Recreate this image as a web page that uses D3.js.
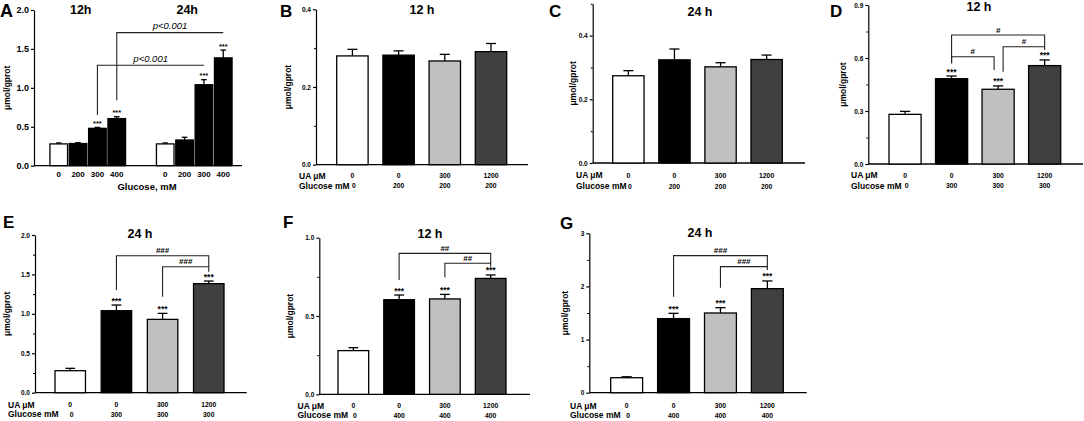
<!DOCTYPE html>
<html>
<head>
<meta charset="utf-8">
<script src="https://cdn.jsdelivr.net/npm/d3@7"></script>
<style>
  body { margin: 0; background: #fff; }
  svg text { font-family: "Liberation Sans", Arial, sans-serif; fill: #000; }
</style>
</head>
<body>
<svg id="fig" width="1084" height="421"></svg>
<script>
// ---- panel A: glucose only, 12h vs 24h
const timesA = ['12h', '24h'];
const glucoseA = ['0', '200', '300', '400'];
const meanA12 = [0.28, 0.285, 0.48, 0.605];
const errA12 = [0.012, 0.01, 0.012, 0.025];
const meanA24 = [0.28, 0.33, 1.04, 1.385];
const errA24 = [0.012, 0.035, 0.065, 0.1];
const starsA = ['', '', '***', '***'];
// [from time, glucose idx, to time, glucose idx, line y, left leg bottom, right leg bottom, text]
const bracketsA = [
  ['12h', 2, '24h', 2, 1.29, 0.65, 1.29, 'p<0.001'],
  ['12h', 3, '24h', 3, 1.71, 0.84, 1.71, 'p<0.001']
];

// ---- panels B-G: uric acid + glucose
const uaLevels = ['0', '0', '300', '1200'];
const starsUA = ['', '***', '***', '***'];

const glucoseB = ['0', '200', '200', '200'];
const meanB = [0.280, 0.282, 0.267, 0.291];
const errB = [0.017, 0.011, 0.017, 0.021];

const glucoseC = ['0', '200', '200', '200'];
const meanC = [0.274, 0.324, 0.302, 0.325];
const errC = [0.016, 0.034, 0.013, 0.014];

const glucoseD = ['0', '300', '300', '300'];
const meanD = [0.281, 0.483, 0.423, 0.557];
const errD = [0.017, 0.015, 0.019, 0.032];
// [from bar, to bar, line y, left leg bottom, right leg bottom, text]
const bracketsD = [
  [1, 3, 0.73, 0.57, 0.664, '#'],
  [1, 2, 0.607, 0.57, 0.532, '#'],
  [2, 3, 0.664, 0.522, 0.645, '#']
];

const glucoseE = ['0', '300', '300', '300'];
const meanE = [0.279, 1.04, 0.93, 1.383];
const errE = [0.03, 0.072, 0.076, 0.033];
const bracketsE = [
  [1, 3, 1.737, 1.302, 1.598, '###'],
  [2, 3, 1.598, 1.218, 1.535, '###']
];

const glucoseF = ['0', '400', '400', '400'];
const meanF = [0.279, 0.604, 0.609, 0.74];
const errF = [0.019, 0.03, 0.029, 0.022];
const bracketsF = [
  [1, 3, 0.9, 0.73, 0.837, '##'],
  [2, 3, 0.837, 0.747, 0.815, '##']
];

const glucoseG = ['0', '400', '400', '400'];
const meanG = [0.282, 1.394, 1.5, 1.958];
const errG = [0.018, 0.1, 0.1, 0.145];
const bracketsG = [
  [1, 3, 2.579, 1.807, 2.372, '###'],
  [2, 3, 2.372, 1.976, 2.31, '###']
];

const fills = ['#ffffff', '#000000', '#c0c0c0', '#404040'];
const svg = d3.select('#fig');

function label(g, x, y, txt, size, anchor) {
  return g.append('text').attr('x', x).attr('y', y)
    .attr('text-anchor', anchor || 'start').attr('font-size', size)
    .style('font-weight', 'bold').text(txt);
}

function yAxis(g, y, cfg) {
  g.append('g')
    .attr('transform', `translate(${cfg.axisX},0)`)
    .call(d3.axisLeft(y).tickValues(cfg.major).tickSize(3).tickSizeOuter(0)
      .tickPadding(2).tickFormat(d3.format(cfg.fmt)))
    .attr('font-size', cfg.tickFont)
    .call(s => s.selectAll('text').style('font-weight', 'bold'))
    .call(s => s.selectAll('path,line').attr('stroke', '#000').attr('stroke-width', 1.2));
  if (cfg.minor.length) {
    g.append('g')
      .attr('transform', `translate(${cfg.axisX},0)`)
      .call(d3.axisLeft(y).tickValues(cfg.minor).tickSize(2).tickFormat(''))
      .call(s => s.select('.domain').remove())
      .call(s => s.selectAll('line').attr('stroke', '#000').attr('stroke-width', 1));
  }
  g.append('line')
    .attr('x1', cfg.axisX).attr('x2', cfg.endX)
    .attr('y1', y(0)).attr('y2', y(0))
    .attr('stroke', '#000').attr('stroke-width', 1.3);
  g.append('text')
    .attr('transform', `translate(${cfg.ylabX},${(y(0) + y(cfg.max)) / 2}) rotate(-90)`)
    .attr('text-anchor', 'middle').attr('dy', '0.35em')
    .attr('font-size', 8.5).style('font-weight', 'bold')
    .text('\u03bcmol/gprot');
}

function bars(g, y, xs, w, means, errs, stars, colors, starSize) {
  const n = means.length;
  d3.range(n).forEach(i => {
    const x = xs[i];
    const top = y(means[i] + errs[i]);
    g.append('line')
      .attr('x1', x + w / 2).attr('x2', x + w / 2)
      .attr('y1', y(means[i])).attr('y2', top)
      .attr('stroke', '#000').attr('stroke-width', 1.3);
    g.append('line')
      .attr('x1', x + w / 2 - w * 0.16).attr('x2', x + w / 2 + w * 0.16)
      .attr('y1', top).attr('y2', top)
      .attr('stroke', '#000').attr('stroke-width', 1.3);
    g.append('rect')
      .attr('x', x).attr('width', w)
      .attr('y', y(means[i])).attr('height', y(0) - y(means[i]))
      .attr('fill', colors[i]).attr('stroke', '#000').attr('stroke-width', 1.3);
    if (stars[i]) label(g, x + w / 2, top - 1.5, stars[i], starSize, 'middle');
  });
}

function bracket(g, y, xl, xr, b, opts) {
  const path = d3.path();
  path.moveTo(xl, y(b[0]));
  path.lineTo(xl, y(b[1]));
  path.lineTo(xr, y(b[1]));
  path.lineTo(xr, y(b[2]));
  g.append('path').attr('d', path.toString())
    .attr('fill', 'none').attr('stroke', '#222').attr('stroke-width', 1.1);
  const t = label(g, (xl + xr) / 2, y(b[1]) - opts.gap, b[3], opts.size, 'middle');
  if (opts.italic) t.attr('font-style', 'italic').style('font-weight', 'normal');
}

// ---------- panel A
(function () {
  const cfg = {
    axisX: 34, endX: 242, y0: 165.7, yTop: 10, max: 2,
    major: [0, 0.5, 1, 1.5, 2], minor: [], fmt: '.1f', tickFont: 9, ylabX: 7
  };
  const g = svg.append('g');
  const y = d3.scaleLinear().domain([0, cfg.max]).range([cfg.y0, cfg.yTop]);
  const xo = d3.scaleBand().domain(timesA).range([34.5, 247.5])
    .paddingInner(0.29).paddingOuter(0.145);
  const xi = d3.scaleBand().domain(d3.range(glucoseA.length)).range([0, xo.bandwidth()])
    .paddingInner(0.09).paddingOuter(0);
  yAxis(g, y, cfg);
  const colorsA = ['#ffffff', '#000000', '#000000', '#000000'];
  [[meanA12, errA12], [meanA24, errA24]].forEach((s, k) => {
    const xs = d3.range(4).map(i => xo(timesA[k]) + xi(i));
    bars(g, y, xs, xi.bandwidth(), s[0], s[1], starsA, colorsA, 7.5);
    glucoseA.forEach((lab, i) => {
      label(g, xs[i] + xi.bandwidth() / 2, 177, lab, 8, 'middle');
    });
    label(g, xo(timesA[k]) + xo.bandwidth() / 2 - 7, 14, timesA[k], 12.5, 'middle');
  });
  const cx = (t, i) => xo(t) + xi(i) + xi.bandwidth() / 2;
  bracketsA.forEach(b => {
    bracket(g, y, cx(b[0], b[1]), cx(b[2], b[3]), [b[5], b[4], b[6], b[7]],
      { gap: 3.5, size: 9.5, italic: true });
  });
  label(g, 147, 190, 'Glucose, mM', 9.5, 'middle');
  label(g, 0, 17, 'A', 18);
})();

// ---------- panels B-G
const panels = [
  { id: 'B', title: '12 h', mean: meanB, err: errB, glu: glucoseB, stars: ['', '', '', ''], br: [], brDx: [],
    axisX: 316, endX: 528, y0: 164.7, yTop: 9.3, max: 0.4, major: [0, 0.2, 0.4], minor: [0.1, 0.3], fmt: '.1f',
    bars: [336.7, 506.7], pad: 0.32, letter: [280, 17.3], titleXY: [422, 14], ylabX: 288, rowX: 299, rowY: [178.5, 188.5] },
  { id: 'C', title: '24 h', mean: meanC, err: errC, glu: glucoseC, stars: ['', '', '', ''], br: [], brDx: [],
    axisX: 592.7, endX: 805, y0: 163, yTop: 3.8, max: 0.5, major: [0, 0.2, 0.4], minor: [0.1, 0.3, 0.5], fmt: '.1f',
    bars: [612.7, 782.3], pad: 0.32, letter: [549, 17.3], titleXY: [700, 15.5], ylabX: 573, rowX: 576, rowY: [178, 189] },
  { id: 'D', title: '12 h', mean: meanD, err: errD, glu: glucoseD, stars: starsUA, br: bracketsD,
    brDx: [[0, 0], [0, -4], [5, 0]],
    axisX: 868.3, endX: 1083, y0: 164, yTop: 5, max: 0.9, major: [0, 0.3, 0.6, 0.9], minor: [0.15, 0.45, 0.75], fmt: '.1f',
    bars: [889, 1060.7], pad: 0.31, letter: [830, 16.7], titleXY: [979, 11], ylabX: 843, rowX: 851, rowY: [178, 188.5] },
  { id: 'E', title: '24 h', mean: meanE, err: errE, glu: glucoseE, stars: starsUA, br: bracketsE,
    brDx: [[0, 0], [0, 0]],
    axisX: 35, endX: 246.7, y0: 392.7, yTop: 235, max: 2, major: [0, 0.5, 1, 1.5, 2], minor: [0.25, 0.75, 1.25, 1.75], fmt: '.1f',
    bars: [55, 224], pad: 0.34, letter: [3, 228.3], titleXY: [140, 238.3], ylabX: 7, rowX: 8, rowY: [407.5, 417] },
  { id: 'F', title: '12 h', mean: meanF, err: errF, glu: glucoseF, stars: starsUA, br: bracketsF,
    brDx: [[0, 0], [0, 0]],
    axisX: 319.3, endX: 530, y0: 394.3, yTop: 237.7, max: 1, major: [0, 0.5, 1], minor: [0.25, 0.75], fmt: '.1f',
    bars: [338, 506], pad: 0.33, letter: [283, 228.3], titleXY: [430, 237.7], ylabX: 290, rowX: 297.5, rowY: [408.5, 418] },
  { id: 'G', title: '24 h', mean: meanG, err: errG, glu: glucoseG, stars: starsUA, br: bracketsG,
    brDx: [[0, 0], [0, 0]],
    axisX: 589.3, endX: 806.7, y0: 392.7, yTop: 233.3, max: 3, major: [0, 1, 2, 3], minor: [0.5, 1.5, 2.5], fmt: 'd',
    bars: [610.7, 783.3], pad: 0.32, letter: [560, 229], titleXY: [700, 237.3], ylabX: 565, rowX: 570, rowY: [408.5, 418] }
];

panels.forEach(p => {
  p.tickFont = 6.5;
  const g = svg.append('g');
  const y = d3.scaleLinear().domain([0, p.max]).range([p.y0, p.yTop]);
  const n = p.mean.length;
  const step = (p.bars[1] - p.bars[0]) / (n - p.pad);
  const x = d3.scaleBand().domain(d3.range(n))
    .range([p.bars[0] - p.pad / 2 * step, p.bars[1] + p.pad / 2 * step])
    .paddingInner(p.pad).paddingOuter(p.pad / 2);
  yAxis(g, y, p);
  const xs = d3.range(n).map(i => x(i));
  bars(g, y, xs, x.bandwidth(), p.mean, p.err, p.stars, fills, 8.5);
  const cx = i => x(i) + x.bandwidth() / 2;
  p.br.forEach((b, k) => {
    bracket(g, y, cx(b[0]) + p.brDx[k][0], cx(b[1]) + p.brDx[k][1], [b[3], b[2], b[4], b[5]],
      { gap: 2.5, size: 8, italic: false });
  });
  // row labels under the bars
  label(g, p.rowX, p.rowY[0], 'UA \u03bcM', 8.5);
  label(g, p.rowX, p.rowY[1], 'Glucose mM', 8.5);
  uaLevels.forEach((lab, i) => label(g, cx(i), p.rowY[0] - 0.5, lab, 6.8, 'middle'));
  p.glu.forEach((lab, i) => label(g, cx(i) + (i === 0 ? 1.5 : 0), p.rowY[1] - 0.5, lab, 6.8, 'middle'));
  label(g, p.titleXY[0], p.titleXY[1], p.title, 12.5, 'middle');
  label(g, p.letter[0], p.letter[1], p.id, 17);
});
</script>
</body>
</html>
